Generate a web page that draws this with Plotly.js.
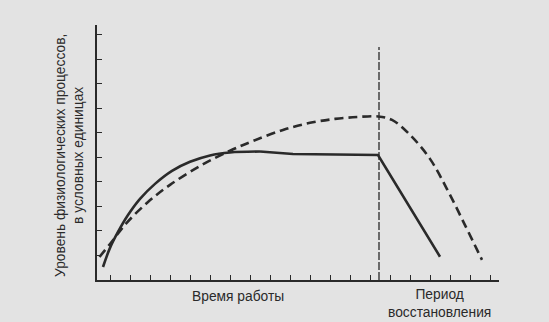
<!DOCTYPE html>
<html>
<head>
<meta charset="utf-8">
<script src="https://cdn.plot.ly/plotly-3.0.1.min.js"></script>
<style>html,body{margin:0;padding:0;background:#e3e3e3;}#chart{width:549px;height:322px;}</style>
</head>
<body>
<div id="chart"></div>
<script>
// Solid curve (work capacity) – rising part and plateau/decline part
var solidRiseX = [0.3, 0.65, 1.05, 1.55, 2.15, 2.9, 3.75, 4.65, 5.65, 6.65, 8.15];
var solidRiseY = [0.53, 1.31, 1.96, 2.65, 3.31, 3.92, 4.45, 4.82, 5.08, 5.20, 5.24];
var solidFlatX = [8.15, 9.8, 14.05, 17.15];
var solidFlatY = [5.24, 5.14, 5.10, 0.95];
// Dashed curve
var dashX = [0.125, 0.65, 1.485, 2.55, 3.65, 5.15, 6.65, 7.8, 9.3, 10.65, 11.9, 13.05, 14.05, 14.75, 15.65, 16.65, 17.5, 18.4, 19.25];
var dashY = [0.94, 1.47, 2.33, 3.18, 3.88, 4.65, 5.27, 5.67, 6.12, 6.41, 6.57, 6.65, 6.67, 6.53, 5.92, 4.94, 3.71, 2.24, 0.82];
// Boundary between work and recovery
var boundaryX = [14.1, 14.1];
var boundaryY = [0, 9.5];
// Labels
var xLabelWork = "Время работы";
var xLabelRecovery = "Период<br>восстановления";
var yLabel = "Уровень физиологических процессов,<br>в условных единицах";

var ink = "#2a2a2a";
var traces = [
  {x: boundaryX, y: boundaryY, mode: "lines", line: {color: ink, width: 1.3, dash: "8px,2px"}, hoverinfo: "skip"},
  {x: solidRiseX, y: solidRiseY, mode: "lines", line: {color: ink, width: 2.6, shape: "spline", smoothing: 1}},
  {x: solidFlatX, y: solidFlatY, mode: "lines", line: {color: ink, width: 2.6}},
  {x: dashX, y: dashY, mode: "lines", line: {color: ink, width: 2.6, shape: "spline", smoothing: 1, dash: "9px,5px"}}
];

var layout = {
  width: 549, height: 322,
  margin: {l: 97, r: 50, t: 25, b: 42},
  paper_bgcolor: "#e3e3e3",
  plot_bgcolor: "#e3e3e3",
  showlegend: false,
  font: {family: "Liberation Sans, Arial, sans-serif", color: ink, size: 13.8},
  xaxis: {range: [0, 20.1], showgrid: false, zeroline: false, showline: true, linecolor: ink, linewidth: 1.6,
          ticks: "inside", ticklen: 5, tickwidth: 1, tickcolor: ink, tick0: 0.65, dtick: 1, showticklabels: false, fixedrange: true},
  yaxis: {range: [0, 10.4], showgrid: false, zeroline: false, showline: true, linecolor: ink, linewidth: 1.6,
          ticks: "inside", ticklen: 5, tickwidth: 1, tickcolor: ink, tick0: 0, dtick: 1, showticklabels: false, fixedrange: true},
  annotations: [
    {text: xLabelWork, xref: "paper", yref: "paper", x: (238 - 97) / 402, y: -(296 - 280) / 255,
     xanchor: "center", yanchor: "middle", showarrow: false, font: {size: 13.8}},
    {text: xLabelRecovery, xref: "paper", yref: "paper", x: (439 - 97) / 402, y: -(303 - 280) / 255,
     xanchor: "center", yanchor: "middle", showarrow: false, font: {size: 13.8}},
    {text: yLabel, xref: "paper", yref: "paper", x: (69 - 97) / 402, y: (280 - 156) / 255, textangle: -90,
     xanchor: "center", yanchor: "middle", showarrow: false, font: {size: 13.8}}
  ]
};
Plotly.newPlot("chart", traces, layout, {displayModeBar: false, staticPlot: true});
</script>
</body>
</html>
